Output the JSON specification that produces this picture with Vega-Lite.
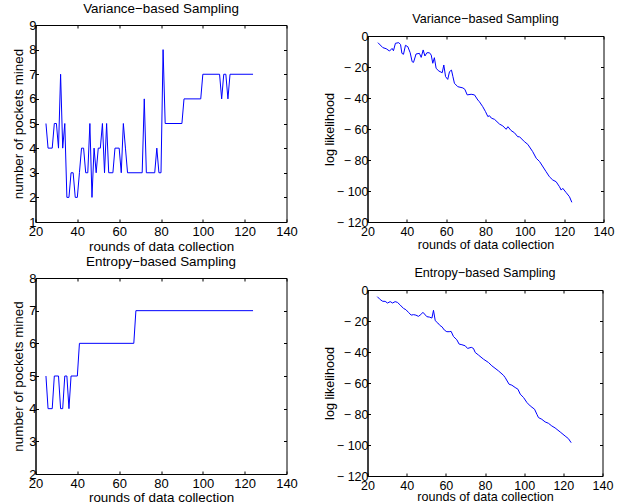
{
  "$schema": "https://vega.github.io/schema/vega-lite/v6.json",
  "padding": {"left": 10.5, "top": 0, "right": 0, "bottom": 0},
  "background": "white",
  "config": {
    "font": "Liberation Sans",
    "view": {"stroke": "#000", "strokeWidth": 1},
    "axis": {"grid": false, "domainColor": "#000", "tickColor": "#000", "labelColor": "#000", "titleColor": "#000", "tickSize": -3, "labelFlush": false, "labelOverlap": false, "labelBound": false, "titleFontWeight": "normal", "labelFontSize": 13, "titleFontSize": 13.4, "domainWidth": 1, "tickWidth": 1},
    "axisX": {"labelPadding": 6.5, "titlePadding": 0.5},
    "axisY": {"labelPadding": 2.5, "titlePadding": 3},
    "title": {"fontSize": 13.4, "fontWeight": "normal", "color": "#000", "offset": 0, "baseline": "bottom", "frame": "group", "anchor": "middle"}
  },
  "datasets": {
    "tl": [
      {"round":25,"value":5},{"round":26,"value":4},{"round":28,"value":4},{"round":29,"value":5},{"round":30,"value":5},{"round":31,"value":4},{"round":32,"value":7},{"round":33,"value":4},{"round":34,"value":5},{"round":35,"value":2},{"round":36,"value":2},{"round":37,"value":3},{"round":38,"value":3},{"round":39,"value":2},{"round":40,"value":2},{"round":41,"value":3},{"round":42,"value":4},{"round":43,"value":4},{"round":44,"value":3},{"round":45,"value":3},{"round":46,"value":5},{"round":47,"value":2},{"round":48,"value":4},{"round":49,"value":3},{"round":50,"value":4},{"round":51,"value":4},{"round":52,"value":5},{"round":53,"value":3},{"round":54,"value":5},{"round":55,"value":3},{"round":57,"value":3},{"round":58,"value":4},{"round":60,"value":4},{"round":61,"value":3},{"round":62,"value":5},{"round":63,"value":4},{"round":64,"value":3},{"round":71,"value":3},{"round":72,"value":6},{"round":73,"value":3},{"round":77,"value":3},{"round":78,"value":4},{"round":79,"value":3},{"round":80,"value":3},{"round":81,"value":8},{"round":82,"value":5},{"round":90,"value":5},{"round":91,"value":6},{"round":99,"value":6},{"round":100,"value":7},{"round":108,"value":7},{"round":109,"value":6},{"round":110,"value":7},{"round":111,"value":7},{"round":112,"value":6},{"round":113,"value":7},{"round":124,"value":7}
    ],
    "bl": [
      {"round":25,"value":5},{"round":26,"value":4},{"round":28,"value":4},{"round":29,"value":5},{"round":31,"value":5},{"round":32,"value":4},{"round":33,"value":4},{"round":34,"value":5},{"round":35,"value":5},{"round":36,"value":4},{"round":37,"value":5},{"round":40,"value":5},{"round":41,"value":6},{"round":67,"value":6},{"round":68,"value":7},{"round":124,"value":7}
    ],
    "tr": [
      {"round":25.3,"value":-4.3},{"round":27.8,"value":-7.5},{"round":29.5,"value":-8.2},{"round":31.2,"value":-9.7},{"round":32.5,"value":-8},{"round":33.2,"value":-9.5},{"round":34.2,"value":-4.7},{"round":35.9,"value":-4.3},{"round":36.8,"value":-5.5},{"round":37.5,"value":-11.2},{"round":38.3,"value":-11.8},{"round":39.3,"value":-6},{"round":40.5,"value":-6.9},{"round":41.7,"value":-10.8},{"round":42.7,"value":-16.6},{"round":43.4,"value":-17},{"round":44.7,"value":-11.6},{"round":46.4,"value":-11.2},{"round":47.3,"value":-13.8},{"round":48.3,"value":-9},{"round":49.2,"value":-12.9},{"round":50.2,"value":-10.8},{"round":51.5,"value":-10.8},{"round":52.4,"value":-12.3},{"round":53.2,"value":-17.6},{"round":54,"value":-14},{"round":54.9,"value":-20.9},{"round":56.3,"value":-22.6},{"round":58,"value":-23.7},{"round":58.8,"value":-18.7},{"round":59.7,"value":-26.2},{"round":60.8,"value":-28},{"round":61.7,"value":-23},{"round":62.7,"value":-22},{"round":63.4,"value":-26},{"round":64.2,"value":-30.5},{"round":65.9,"value":-32.7},{"round":68.5,"value":-33.5},{"round":69.5,"value":-34.4},{"round":70.7,"value":-38},{"round":72.7,"value":-37.6},{"round":74.4,"value":-38},{"round":76.1,"value":-41.3},{"round":76.9,"value":-42.4},{"round":78.6,"value":-45.6},{"round":80,"value":-48.8},{"round":81.2,"value":-52},{"round":82,"value":-51.4},{"round":83,"value":-53},{"round":84.6,"value":-53.8},{"round":87.1,"value":-56.8},{"round":88.8,"value":-58},{"round":90.5,"value":-60.2},{"round":91.4,"value":-58.5},{"round":93,"value":-61},{"round":94.7,"value":-62.4},{"round":96.4,"value":-65},{"round":97.3,"value":-65},{"round":99.8,"value":-68.2},{"round":101.5,"value":-69.9},{"round":104,"value":-74.6},{"round":105.8,"value":-78.9},{"round":107.5,"value":-81},{"round":110.8,"value":-87.5},{"round":112.5,"value":-90.8},{"round":114.2,"value":-92.9},{"round":115.9,"value":-94},{"round":117.6,"value":-97.2},{"round":118.5,"value":-99.4},{"round":119.3,"value":-98.3},{"round":121,"value":-101},{"round":122.7,"value":-103.7},{"round":123.9,"value":-107.3}
    ],
    "br": [
      {"round":25,"value":-4.3},{"round":26.5,"value":-6.2},{"round":27.8,"value":-7.3},{"round":29,"value":-7.3},{"round":30.2,"value":-8.4},{"round":31.6,"value":-7.5},{"round":32.8,"value":-8.4},{"round":34.1,"value":-7.5},{"round":35.3,"value":-8},{"round":36.7,"value":-9.7},{"round":38.4,"value":-11.9},{"round":39.6,"value":-12.7},{"round":40.9,"value":-14.4},{"round":42.3,"value":-16.2},{"round":43.5,"value":-15.9},{"round":44.7,"value":-16.2},{"round":46,"value":-17},{"round":47.2,"value":-15.9},{"round":48.3,"value":-14.4},{"round":49.1,"value":-15.5},{"round":50.3,"value":-17.2},{"round":51.7,"value":-17.5},{"round":52.9,"value":-18.1},{"round":53.7,"value":-13.1},{"round":54.6,"value":-19.8},{"round":55.9,"value":-21.3},{"round":57.1,"value":-23},{"round":58,"value":-23.7},{"round":59.3,"value":-25.9},{"round":60.5,"value":-26.9},{"round":61.7,"value":-26.9},{"round":62.7,"value":-26.7},{"round":63.9,"value":-30},{"round":65.6,"value":-32.1},{"round":66.8,"value":-34.9},{"round":68.2,"value":-35.3},{"round":69.9,"value":-36},{"round":71.1,"value":-37.7},{"round":73,"value":-37},{"round":74.1,"value":-37.7},{"round":75,"value":-40.3},{"round":76.7,"value":-42},{"round":79.2,"value":-44.6},{"round":81.8,"value":-46.8},{"round":83.5,"value":-48.9},{"round":86.9,"value":-52.2},{"round":89.4,"value":-55},{"round":90.3,"value":-56.5},{"round":92.3,"value":-60.8},{"round":93.7,"value":-61.4},{"round":95.4,"value":-62.9},{"round":96.8,"value":-64},{"round":98,"value":-67.2},{"round":99.7,"value":-69.4},{"round":101.4,"value":-72.6},{"round":103.1,"value":-74.8},{"round":105.3,"value":-76.9},{"round":106.5,"value":-80.2},{"round":107.3,"value":-82.3},{"round":109,"value":-83.4},{"round":110.7,"value":-85.1},{"round":112.4,"value":-86},{"round":114.1,"value":-87.7},{"round":115.8,"value":-89},{"round":118.4,"value":-91.6},{"round":120.9,"value":-94.2},{"round":122.6,"value":-95.9},{"round":124,"value":-98.5}
    ],
    "blank": [{"a": 0}]
  },
  "spacing": 24,
  "hconcat": [
    {
      "spacing": 0,
      "vconcat": [
        {"width": 251, "height": 1, "data": {"name": "blank"}, "mark": {"type": "point", "opacity": 0, "size": 0}, "encoding": {}, "view": {"stroke": "#fff", "strokeOpacity": 0}},
        {
          "spacing": 1,
          "vconcat": [
            {
              "width": 251, "height": 197,
              "title": {"text": "Variance−based Sampling"},
              "data": {"name": "tl"},
              "layer": [
                {"mark": {"type": "line", "color": "#0000ff", "strokeWidth": 1},
                 "encoding": {
                   "x": {"field": "round", "type": "quantitative", "scale": {"domain": [20, 140], "nice": false, "zero": false}, "axis": {"values": [20, 40, 60, 80, 100, 120, 140], "title": "rounds of data collection"}},
                   "y": {"field": "value", "type": "quantitative", "scale": {"domain": [1, 9], "nice": false, "zero": false}, "axis": {"values": [1, 2, 3, 4, 5, 6, 7, 8, 9], "title": "number of pockets mined"}}
                 }},
                {"mark": {"type": "line", "strokeOpacity": 0},
                 "encoding": {
                   "x": {"field": "round", "type": "quantitative", "scale": {"domain": [20, 140], "nice": false, "zero": false}, "axis": {"orient": "top", "values": [20, 40, 60, 80, 100, 120, 140], "labels": false, "title": null, "domain": false}},
                   "y": {"field": "value", "type": "quantitative", "scale": {"domain": [1, 9], "nice": false, "zero": false}, "axis": {"orient": "right", "values": [1, 2, 3, 4, 5, 6, 7, 8, 9], "labels": false, "title": null, "domain": false}}
                 }}
              ],
              "resolve": {"axis": {"x": "independent", "y": "independent"}}
            },
            {
              "width": 251, "height": 196,
              "title": {"text": "Entropy−based Sampling"},
              "data": {"name": "bl"},
              "layer": [
                {"mark": {"type": "line", "color": "#0000ff", "strokeWidth": 1},
                 "encoding": {
                   "x": {"field": "round", "type": "quantitative", "scale": {"domain": [20, 140], "nice": false, "zero": false}, "axis": {"values": [20, 40, 60, 80, 100, 120, 140], "title": "rounds of data collection", "titlePadding": -0.5}},
                   "y": {"field": "value", "type": "quantitative", "scale": {"domain": [2, 8], "nice": false, "zero": false}, "axis": {"values": [2, 3, 4, 5, 6, 7, 8], "title": "number of pockets mined"}}
                 }},
                {"mark": {"type": "line", "strokeOpacity": 0},
                 "encoding": {
                   "x": {"field": "round", "type": "quantitative", "scale": {"domain": [20, 140], "nice": false, "zero": false}, "axis": {"orient": "top", "values": [20, 40, 60, 80, 100, 120, 140], "labels": false, "title": null, "domain": false}},
                   "y": {"field": "value", "type": "quantitative", "scale": {"domain": [2, 8], "nice": false, "zero": false}, "axis": {"orient": "right", "values": [2, 3, 4, 5, 6, 7, 8], "labels": false, "title": null, "domain": false}}
                 }}
              ],
              "resolve": {"axis": {"x": "independent", "y": "independent"}}
            }
          ]
        }
      ]
    },
    {
      "spacing": 0,
      "vconcat": [
        {"width": 236, "height": 12, "data": {"name": "blank"}, "mark": {"type": "point", "opacity": 0, "size": 0}, "encoding": {}, "view": {"stroke": "#fff", "strokeOpacity": 0}},
        {
          "spacing": 14,
          "vconcat": [
            {
              "width": 236, "height": 186,
              "title": {"text": "Variance−based Sampling", "fontSize": 12.6},
              "data": {"name": "tr"},
              "layer": [
                {"mark": {"type": "line", "color": "#0000ff", "strokeWidth": 1},
                 "encoding": {
                   "x": {"field": "round", "type": "quantitative", "scale": {"domain": [20, 140], "nice": false, "zero": false}, "axis": {"values": [20, 40, 60, 80, 100, 120, 140], "title": "rounds of data collection", "titleFontSize": 12.6, "labelFontSize": 12.5}},
                   "y": {"field": "value", "type": "quantitative", "scale": {"domain": [-120, 0], "nice": false, "zero": false}, "axis": {"values": [-120, -100, -80, -60, -40, -20, 0], "title": "log likelihood", "titleFontSize": 12.6, "labelFontSize": 12.5, "titlePadding": -0.5, "labelExpr": "datum.value < 0 ? '− ' + abs(datum.value) : '' + datum.value"}}
                 }},
                {"mark": {"type": "line", "strokeOpacity": 0},
                 "encoding": {
                   "x": {"field": "round", "type": "quantitative", "scale": {"domain": [20, 140], "nice": false, "zero": false}, "axis": {"orient": "top", "values": [20, 40, 60, 80, 100, 120, 140], "labels": false, "title": null, "domain": false}},
                   "y": {"field": "value", "type": "quantitative", "scale": {"domain": [-120, 0], "nice": false, "zero": false}, "axis": {"orient": "right", "values": [-120, -100, -80, -60, -40, -20, 0], "labels": false, "title": null, "domain": false}}
                 }}
              ],
              "resolve": {"axis": {"x": "independent", "y": "independent"}}
            },
            {
              "width": 235, "height": 186,
              "title": {"text": "Entropy−based Sampling", "fontSize": 12.6},
              "data": {"name": "br"},
              "layer": [
                {"mark": {"type": "line", "color": "#0000ff", "strokeWidth": 1},
                 "encoding": {
                   "x": {"field": "round", "type": "quantitative", "scale": {"domain": [20, 140], "nice": false, "zero": false}, "axis": {"values": [20, 40, 60, 80, 100, 120, 140], "title": "rounds of data collection", "titleFontSize": 12.6, "labelFontSize": 12.5, "titlePadding": -1.5}},
                   "y": {"field": "value", "type": "quantitative", "scale": {"domain": [-120, 0], "nice": false, "zero": false}, "axis": {"values": [-120, -100, -80, -60, -40, -20, 0], "title": "log likelihood", "titleFontSize": 12.6, "labelFontSize": 12.5, "titlePadding": -0.5, "labelExpr": "datum.value < 0 ? '− ' + abs(datum.value) : '' + datum.value"}}
                 }},
                {"mark": {"type": "line", "strokeOpacity": 0},
                 "encoding": {
                   "x": {"field": "round", "type": "quantitative", "scale": {"domain": [20, 140], "nice": false, "zero": false}, "axis": {"orient": "top", "values": [20, 40, 60, 80, 100, 120, 140], "labels": false, "title": null, "domain": false}},
                   "y": {"field": "value", "type": "quantitative", "scale": {"domain": [-120, 0], "nice": false, "zero": false}, "axis": {"orient": "right", "values": [-120, -100, -80, -60, -40, -20, 0], "labels": false, "title": null, "domain": false}}
                 }}
              ],
              "resolve": {"axis": {"x": "independent", "y": "independent"}}
            }
          ]
        }
      ]
    }
  ]
}
